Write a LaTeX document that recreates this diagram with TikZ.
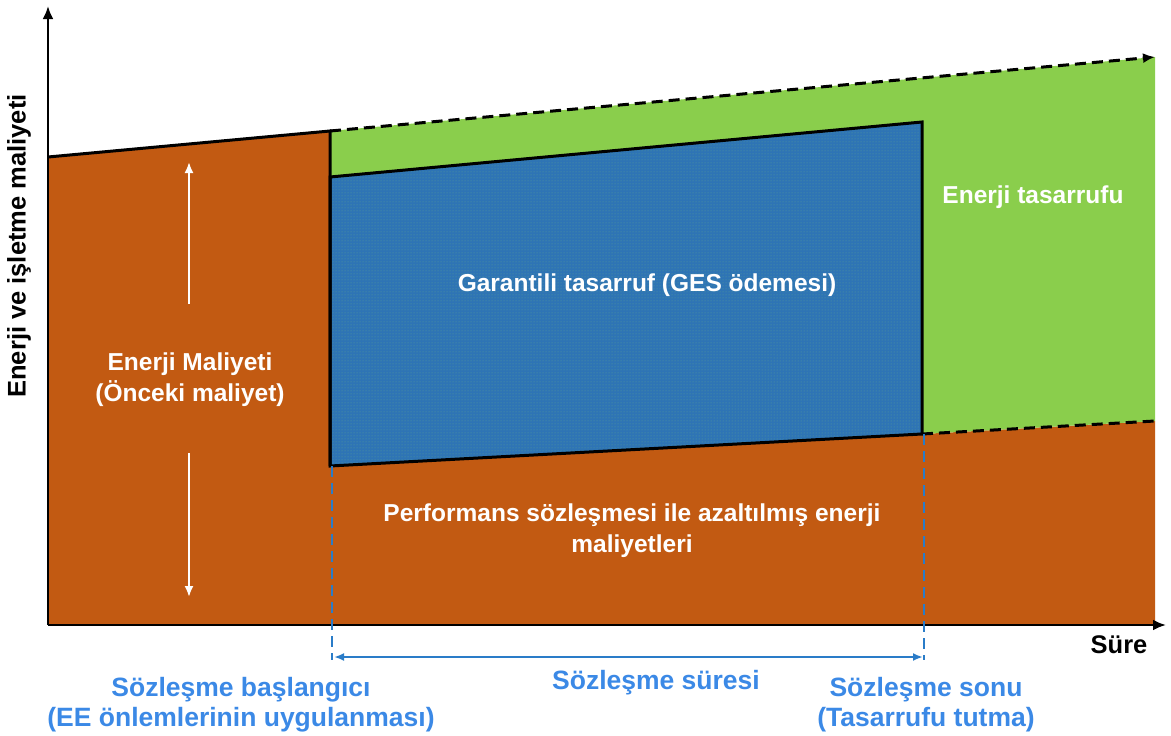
\documentclass[tikz,border=0pt]{standalone}
\usepackage{fontspec}
\setmainfont{Liberation Sans}
\usetikzlibrary{arrows.meta,patterns}
\definecolor{costorange}{HTML}{C25A12}
\definecolor{savegreen}{HTML}{8ACE4C}
\definecolor{guarblue}{HTML}{2E74B5}
\definecolor{dotgreen}{HTML}{9BE06A}
\definecolor{labelblue}{HTML}{3B89E6}
\definecolor{lineblue}{HTML}{2A7CC8}
\tikzset{
  whitelbl/.style={text=white,font=\fontsize{24.5}{31}\selectfont\bfseries,align=center,inner sep=0pt},
  bluelbl/.style={text=labelblue,font=\fontsize{26.5}{30}\selectfont\bfseries,align=center,inner sep=0pt},
  axislbl/.style={text=black,font=\fontsize{25.5}{30}\selectfont\bfseries,inner sep=0pt},
  axisline/.style={line width=2.4pt,-{Latex[length=13pt,width=11pt]}},
  edge/.style={line width=3pt,black},
  dashedge/.style={line width=3pt,black,dash pattern=on 11pt off 6pt},
  bluedash/.style={line width=2.6pt,lineblue,dash pattern=on 11pt off 6pt},
  whitearrow/.style={line width=2pt,white,-{Latex[length=11pt,width=9pt]}}
}
\begin{document}
\begin{tikzpicture}[x=1pt,y=-1pt]
\useasboundingbox (0,0) rectangle (1171,736);

% key points of the chart
\coordinate (O) at (48,625);
\coordinate (ytop) at (48,6);
\coordinate (xend) at (1166,625);
\coordinate (l0) at (48,157);
\coordinate (s0) at (330,131);
\coordinate (s1) at (330,177);
\coordinate (s2) at (330,466);
\coordinate (e0) at (922,122);
\coordinate (e1) at (922,434);
\coordinate (r0) at (1155,57);
\coordinate (r1) at (1155,421);
\coordinate (rb) at (1155,625);

% cost areas
\fill[costorange] (l0) -- (s0) -- (s2) -- (e1) -- (r1) -- (rb) -- (O) -- cycle;
\fill[savegreen] (s0) -- (r0) -- (r1) -- (e1) -- (s2) -- cycle;
\fill[guarblue] (s1) -- (e0) -- (e1) -- (s2) -- cycle;
\fill[pattern=dots,pattern color=dotgreen,fill opacity=0.4] (s1) -- (e0) -- (e1) -- (s2) -- cycle;

% outlines
\draw[edge] (l0) -- (s0) -- (s2);
\draw[edge,line join=miter] (s1) -- (e0) -- (e1) -- (s2) -- cycle;
\draw[dashedge,-{Latex[length=12pt,width=10pt]}] (s0) -- (r0);
\draw[dashedge] (e1) -- (r1);

% axes
\draw[axisline] (O) -- (ytop);
\draw[axisline] (O) -- (xend);

% contract period markers
\coordinate (d0) at (332,660);
\coordinate (d1) at (924,660);
\coordinate (a0) at (334,657);
\coordinate (a1) at (923,657);
\draw[bluedash] (332,466) -- (d0);
\draw[bluedash] (924,434) -- (d1);
\draw[line width=2pt,lineblue,{Latex[length=10pt,width=8pt]}-{Latex[length=10pt,width=8pt]}] (a0) -- (a1);

% labels
\node[axislbl,rotate=90] (ylbl) at (19,246) {Enerji ve işletme maliyeti};
\node[axislbl] (xlbl) at (1119,645) {Süre};
\node[whitelbl] (oldcost) at (190,380) {Enerji Maliyeti\\(Önceki maliyet)};
\node[whitelbl] (guar) at (647,285) {Garantili tasarruf (GES ödemesi)};
\node[whitelbl] (saving) at (1033,197) {Enerji tasarrufu};
\node[whitelbl] (reduced) at (632,531) {Performans sözleşmesi ile azaltılmış enerji\\maliyetleri};
\node[bluelbl] (start) at (241,705) {Sözleşme başlangıcı\\(EE önlemlerinin uygulanması)};
\node[bluelbl] (period) at (656,683) {Sözleşme süresi};
\node[bluelbl] (finish) at (926,705) {Sözleşme sonu\\(Tasarrufu tutma)};

% span arrows of the old cost
\coordinate (up) at (189,162);
\coordinate (dn) at (189,597);
\draw[whitearrow] (189,304) -- (up);
\draw[whitearrow] (189,453) -- (dn);
\end{tikzpicture}
\end{document}
